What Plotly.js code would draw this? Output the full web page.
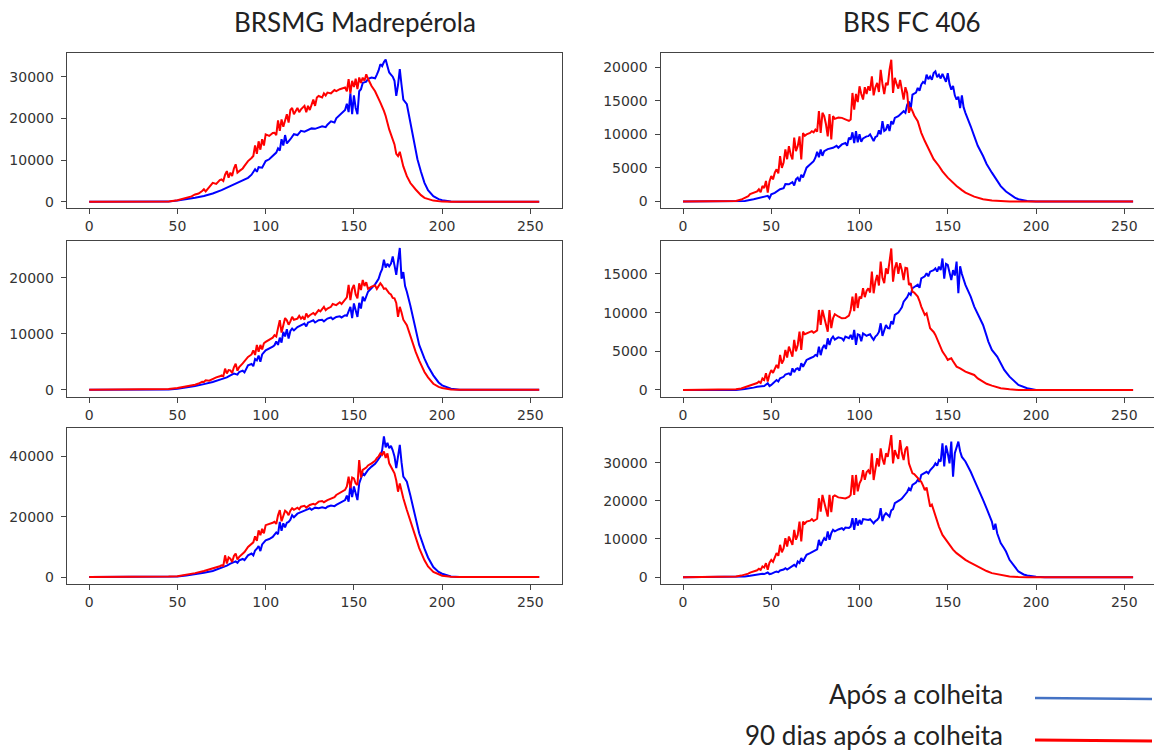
<!DOCTYPE html>
<html>
<head>
<meta charset="utf-8">
<script src="https://cdn.plot.ly/plotly-3.0.1.min.js"></script>
<style>html,body{margin:0;padding:0;background:#fff;}#chart{width:1154px;height:753px;}</style>
</head>
<body>
<div id="chart"></div>
<script>
// Column titles and legend labels
const columnTitles = ["BRSMG Madrepérola", "BRS FC 406"];
const seriesNames = ["Após a colheita", "90 dias após a colheita"];
const xTicks = [0, 50, 100, 150, 200, 250];

// [intensity bin, pixel count] pairs
// BRSMG Madrepérola, row 1
const madre1Apos = [[0,0],[40,0],[45,50],[50,300],[55,600],[60,960],[65,1400],[70,2000],[75,2800],[80,3760],[83,4500],[85,4800],[88,5300],[90,5760],[92,6500],[94,7800],[95,7200],[96,8300],[98,8200],[100,9760],[102,10200],[104,11000],[106,11800],[107,12800],[108,12300],[109,15000],[110,13500],[111,16000],[112,14000],[114,15000],[116,16200],[118,16000],[120,17000],[122,16800],[124,17300],[126,17600],[128,17500],[130,17800],[132,18100],[134,17900],[135,18500],[137,19300],[139,19000],[140,20000],[142,20800],[144,21600],[145,22000],[146,23500],[147,21500],[148,26000],[149,21000],[150,25500],[151,22500],[152,21000],[153,26500],[154,27000],[155,28500],[157,28800],[158,29500],[160,29800],[162,29600],[163,30500],[164,31500],[165,33000],[166,32500],[167,33500],[168,34100],[169,32500],[170,31000],[171,30500],[172,30000],[173,29000],[174,25400],[175,28000],[176,31800],[177,28000],[178,24500],[180,23400],[182,19000],[183,16500],[185,12500],[186,10200],[188,7200],[190,4560],[192,2800],[195,1360],[198,650],[200,400],[205,100],[210,0],[255,0]];
const madre1Dias90 = [[0,0],[40,0],[45,100],[50,400],[55,900],[58,1300],[60,1760],[62,2000],[64,2600],[65,3000],[66,2500],[68,3500],[70,4560],[72,4300],[74,5200],[75,5360],[76,5000],[77,6500],[78,7360],[79,5800],[80,7000],[81,6200],[82,8000],[83,9000],[84,7000],[85,7360],[87,8000],[88,8600],[90,9760],[92,10500],[93,11000],[94,13500],[95,11500],[96,14500],[97,12500],[98,15000],[99,13500],[100,16160],[102,15800],[104,16500],[105,16560],[106,16000],[107,19500],[108,17000],[109,19760],[110,18000],[111,19500],[112,21000],[113,19000],[114,22000],[115,22500],[116,21000],[118,22500],[119,21500],[120,22160],[122,23000],[123,21500],[124,23000],[125,22000],[126,23500],[127,24500],[128,23000],[129,25000],[130,25360],[132,25000],[133,26000],[134,25500],[135,26200],[137,26000],[139,26800],[140,26560],[142,27000],[144,27200],[145,27400],[146,26500],[147,29400],[148,26000],[149,29000],[150,27500],[151,29500],[152,27000],[153,29800],[154,28500],[155,29760],[156,29000],[157,30560],[158,29500],[160,27760],[162,26500],[163,25700],[165,23760],[167,21800],[168,20560],[170,17360],[172,14800],[173,13760],[174,11500],[175,10960],[176,12000],[177,10000],[178,8500],[180,6160],[182,4500],[185,2960],[188,1600],[190,960],[195,300],[200,50],[205,0],[255,0]];

// BRS FC 406, row 1
const fc1Apos = [[0,0],[30,0],[35,100],[40,350],[43,500],[45,600],[47,700],[48,850],[49,500],[50,1090],[52,1300],[54,1600],[55,1830],[57,2000],[58,2600],[60,2570],[62,2900],[63,2400],[64,3300],[65,3560],[66,3000],[67,4000],[68,3600],[70,5040],[72,5500],[74,6000],[75,6520],[76,7400],[77,6600],[78,7760],[79,6800],[80,7500],[82,7800],[84,7900],[85,8000],[87,8300],[88,8000],[90,8500],[92,8700],[93,8300],[94,9500],[95,9240],[96,10300],[97,8700],[98,10470],[99,8800],[100,10000],[101,8900],[102,9400],[104,9700],[105,9730],[106,10000],[107,9400],[108,9000],[109,9600],[110,9730],[111,10600],[112,10000],[113,11950],[114,10500],[115,10700],[116,11500],[117,10500],[118,11950],[119,11500],[120,12450],[122,12700],[124,13100],[125,13440],[126,13200],[127,14400],[128,14900],[129,13700],[130,15900],[132,16200],[133,16900],[134,16500],[135,17400],[136,17800],[137,17600],[138,18870],[139,18200],[140,18600],[141,18100],[142,19100],[143,19360],[144,18500],[145,18870],[146,18300],[147,19000],[148,18400],[149,17800],[150,19100],[151,17500],[152,16650],[153,17200],[154,15800],[155,15170],[156,15600],[157,13900],[158,15800],[159,14000],[160,13200],[162,12000],[163,11200],[165,9730],[167,8300],[170,6770],[172,5600],[175,4300],[178,3000],[180,2300],[183,1500],[185,1090],[188,600],[190,350],[195,100],[200,0],[255,0]];
const fc1Dias90 = [[0,0],[28,0],[30,100],[33,300],[35,600],[37,800],[38,1100],[40,1330],[42,1500],[43,1830],[44,1400],[45,2320],[46,2000],[47,3060],[48,1330],[49,3000],[50,3800],[51,3300],[52,4300],[53,4800],[54,4200],[55,6770],[56,5000],[57,5800],[58,7760],[59,6300],[60,8250],[61,7000],[62,6270],[63,9500],[64,7500],[65,8250],[66,9700],[67,6270],[68,10200],[69,9800],[70,10000],[72,10200],[73,10470],[74,10300],[75,10700],[76,10400],[77,13440],[78,10200],[79,13200],[80,12700],[81,11500],[82,9700],[83,13000],[84,9240],[85,12700],[86,12300],[88,12500],[90,12450],[92,12200],[94,12000],[95,12200],[96,16150],[97,13680],[98,16000],[99,14800],[100,17140],[101,16000],[102,15170],[103,17000],[104,16000],[105,17140],[106,16500],[107,18620],[108,15800],[109,17000],[110,17640],[111,16300],[112,19600],[113,17500],[114,16000],[115,17640],[116,17300],[117,19600],[118,21100],[119,16150],[120,18400],[121,17500],[122,16800],[123,18100],[124,16500],[125,15170],[126,17000],[127,16150],[128,13200],[129,14000],[130,13440],[131,12800],[133,11950],[135,10220],[137,9000],[140,7260],[142,6300],[145,5290],[147,4500],[150,3560],[152,3000],[155,2320],[158,1700],[160,1330],[165,740],[170,350],[175,150],[180,50],[185,0],[255,0]];

// BRSMG Madrepérola, row 2
const madre2Apos = [[0,0],[40,0],[45,60],[50,180],[55,400],[60,650],[65,1000],[70,1370],[75,1900],[78,2200],[80,2570],[82,2900],[84,2700],[85,3160],[87,3400],[88,3100],[90,4360],[92,4600],[93,4200],[94,5500],[95,5250],[96,6100],[97,5000],[98,6300],[100,7040],[102,7300],[104,7700],[105,7940],[106,8600],[107,8000],[108,9300],[109,8400],[110,10330],[111,9500],[112,10800],[113,9130],[114,10500],[115,10920],[116,10600],[118,11200],[120,11520],[122,11800],[123,11300],[124,12000],[125,12100],[127,12400],[128,12000],[130,12400],[132,12500],[133,12200],[135,12700],[137,12900],[138,12600],[140,13000],[142,13100],[143,12900],[145,13300],[146,13200],[147,14000],[148,14800],[149,12800],[150,15400],[151,14200],[152,13000],[153,15500],[154,14500],[155,16600],[156,15800],[158,17500],[160,18100],[162,18800],[163,19300],[164,19800],[165,20800],[166,21500],[167,23200],[168,21800],[169,22500],[170,22000],[171,22500],[172,23800],[173,22200],[174,20500],[175,23000],[176,25300],[177,19800],[178,21000],[179,18500],[180,17500],[182,15000],[183,13600],[185,10300],[187,8000],[190,5550],[192,4200],[195,2570],[198,1300],[200,780],[205,180],[210,0],[255,0]];
const madre2Dias90 = [[0,0],[40,0],[45,120],[50,300],[55,550],[60,900],[62,1100],[64,1400],[65,1370],[66,1700],[68,1600],[70,1970],[72,2200],[74,2400],[75,2570],[76,2400],[77,3760],[78,2900],[79,3500],[80,3460],[81,3000],[82,4000],[83,4660],[84,3400],[85,4060],[87,4700],[88,5100],[90,5850],[92,6300],[93,7040],[94,6200],[95,8000],[96,6800],[97,8000],[98,7200],[99,8300],[100,8540],[102,9000],[104,9300],[105,9730],[106,9500],[107,11000],[108,12400],[109,10200],[110,11500],[111,12800],[112,12400],[113,11600],[114,12200],[115,13000],[116,12500],[118,12700],[119,13200],[120,12700],[121,13000],[122,12500],[123,13600],[124,13000],[125,13300],[127,13700],[128,13400],[130,14200],[131,14000],[132,14500],[133,14800],[134,14200],[135,14500],[137,14800],[138,15300],[140,15100],[142,15600],[143,15300],[145,16000],[146,16500],[147,18700],[148,16000],[149,18000],[150,18700],[151,17000],[152,16300],[153,19000],[154,17800],[155,19600],[156,18500],[157,19200],[158,18000],[160,18400],[162,18600],[163,18000],[165,19000],[166,18600],[167,18000],[168,18100],[170,17200],[171,17000],[172,16400],[173,16300],[174,15500],[175,13000],[176,14800],[177,13800],[178,12500],[180,11500],[182,9500],[183,8540],[185,6750],[187,5200],[190,3160],[192,2200],[195,1070],[198,500],[200,300],[205,60],[210,0],[255,0]];

// BRS FC 406, row 2
const fc2Apos = [[0,0],[30,0],[35,130],[38,200],[40,300],[42,400],[44,450],[45,560],[46,500],[48,860],[49,500],[50,650],[52,1000],[53,1290],[54,1100],[55,1500],[57,1700],[58,2000],[60,2150],[61,1900],[62,2800],[63,2300],[64,2700],[65,2800],[66,2500],[67,3450],[68,3000],[70,3880],[72,4100],[74,4300],[75,4530],[76,4400],[77,5600],[78,4500],[79,5400],[80,5820],[81,5300],[82,6680],[83,5800],[84,6600],[85,6900],[86,6500],[88,6800],[90,6680],[91,6400],[92,6900],[94,6700],[95,7110],[96,6500],[97,7760],[98,5820],[99,7200],[100,7110],[101,6300],[102,7300],[104,7000],[105,7110],[106,7200],[107,6800],[108,6470],[109,6900],[110,7110],[111,7500],[112,8620],[113,7000],[114,7800],[115,8400],[116,8000],[117,7970],[118,8900],[119,8500],[120,9700],[122,10000],[123,10340],[124,10700],[125,11420],[127,12000],[128,12500],[129,12300],[130,13150],[132,13400],[133,13600],[134,13200],[135,14440],[137,14700],[138,15100],[139,14700],[140,15300],[142,15500],[143,15730],[144,15300],[145,15950],[146,15500],[147,17000],[148,14400],[149,16300],[150,16160],[151,15000],[152,14220],[153,15500],[154,14800],[155,16600],[156,12500],[157,16000],[158,15000],[160,13580],[162,12600],[163,12070],[165,10780],[167,9800],[168,9270],[170,8400],[172,7000],[173,6250],[175,5170],[177,4600],[178,4310],[180,3450],[182,2600],[185,1720],[188,1000],[190,650],[195,215],[200,0],[255,0]];
const fc2Dias90 = [[0,0],[28,0],[30,80],[33,200],[35,340],[37,500],[38,600],[40,730],[42,900],[43,1080],[44,900],[45,1500],[46,1300],[47,2150],[48,1080],[49,2000],[50,2580],[51,2200],[52,2800],[53,3230],[54,2800],[55,4530],[56,3400],[57,3880],[58,5170],[59,4200],[60,5600],[61,4800],[62,4310],[63,6470],[64,5000],[65,5820],[66,7540],[67,5170],[68,7540],[69,7200],[70,7330],[72,7500],[73,7600],[74,7400],[75,7540],[76,7700],[77,10340],[78,8400],[79,10340],[80,9480],[81,8500],[82,7540],[83,10340],[84,8000],[85,9270],[86,9800],[88,9500],[90,9270],[92,9300],[94,9600],[95,10340],[96,12070],[97,10200],[98,12500],[99,10600],[100,12070],[101,11800],[102,13150],[103,12000],[104,12800],[105,13150],[106,12600],[107,15300],[108,12500],[109,14000],[110,14870],[111,13500],[112,16600],[113,14500],[114,13800],[115,15730],[116,15000],[117,16600],[118,18300],[119,14000],[120,15730],[121,16500],[122,15000],[123,16380],[124,15500],[125,14220],[126,15800],[127,15730],[128,13580],[129,13800],[130,12700],[131,12600],[133,12070],[134,11500],[135,10780],[137,9700],[138,9900],[140,7970],[142,7500],[143,7110],[145,6030],[147,4960],[149,4300],[150,3880],[151,4000],[152,4100],[153,3700],[155,3020],[157,2800],[160,2370],[162,2200],[165,1940],[167,1500],[170,1080],[172,800],[175,560],[180,215],[185,80],[190,0],[255,0]];

// BRSMG Madrepérola, row 3
const madre3Apos = [[0,0],[40,0],[45,100],[50,200],[55,500],[60,900],[65,1400],[70,2000],[75,3000],[78,3800],[80,4440],[82,4900],[83,5200],[84,4700],[85,5550],[87,6000],[88,5600],[90,7200],[92,7800],[93,7200],[94,8800],[95,9400],[96,10300],[97,8600],[98,10800],[100,12200],[102,12600],[104,13300],[105,13900],[106,14800],[107,14200],[108,18300],[109,15300],[110,17800],[111,16500],[112,18000],[113,18300],[114,19000],[115,20500],[116,19800],[118,21000],[120,21600],[122,22000],[124,22500],[125,22800],[126,22300],[128,23000],[130,22800],[132,23100],[134,22800],[135,23300],[137,23700],[139,23500],[140,23900],[142,24500],[144,25000],[145,25500],[146,27000],[147,25000],[148,30500],[149,26500],[150,30000],[151,28000],[152,25500],[153,31000],[154,32500],[155,34400],[156,33800],[158,35500],[160,36600],[162,37500],[163,38300],[164,39000],[165,40000],[166,42000],[167,46600],[168,43000],[169,44500],[170,42700],[171,43500],[172,42000],[173,40000],[174,36100],[175,40000],[176,43800],[177,38000],[178,33300],[179,32500],[180,31600],[182,27000],[183,24400],[185,18900],[187,14500],[190,9400],[192,6500],[195,3300],[198,1700],[200,1100],[205,200],[210,0],[255,0]];
const madre3Dias90 = [[0,0],[40,0],[45,150],[50,300],[55,700],[60,1300],[65,2000],[70,2800],[72,3200],[74,3600],[75,3900],[76,3700],[77,7200],[78,4500],[79,6500],[80,6100],[81,5000],[82,7000],[83,7800],[84,5800],[85,6700],[87,7600],[88,8300],[90,10000],[92,10800],[93,11500],[94,13500],[95,12000],[96,15500],[97,13900],[98,16000],[99,14500],[100,17200],[102,17500],[104,18000],[105,18300],[106,17600],[107,20500],[108,22200],[109,18500],[110,20000],[111,22000],[112,21500],[113,20500],[114,22000],[115,22800],[116,22300],[118,23000],[119,22500],[120,23300],[122,23600],[123,23000],[125,23900],[127,24300],[128,24000],[130,25000],[132,25200],[133,24800],[135,25500],[137,26000],[139,26500],[140,27200],[142,27800],[144,28400],[145,28900],[146,30000],[147,33300],[148,29500],[149,33000],[150,32700],[151,31000],[152,30500],[153,38800],[154,33000],[155,35500],[157,36300],[158,37000],[160,37700],[162,38500],[163,39400],[164,40000],[165,41000],[166,40500],[167,41600],[168,39500],[169,41000],[170,37700],[172,35500],[173,34400],[174,32000],[175,28300],[176,31000],[177,28000],[178,26100],[180,22200],[182,18500],[183,16600],[185,12800],[187,9600],[190,5550],[192,3500],[195,1700],[198,800],[200,450],[205,100],[210,0],[255,0]];

// BRS FC 406, row 3
const fc3Apos = [[0,0],[30,0],[35,170],[38,350],[40,520],[42,650],[44,700],[45,870],[46,800],[48,1220],[49,800],[50,870],[52,1300],[53,1480],[54,1300],[55,1740],[57,2000],[58,2350],[59,2000],[60,2350],[62,2900],[63,3230],[64,2800],[65,4100],[66,3700],[67,5000],[68,4100],[70,5840],[72,6300],[74,6800],[75,7150],[76,7300],[77,9770],[78,8200],[79,9300],[80,10200],[81,9600],[82,11950],[83,9770],[84,11500],[85,12380],[86,12000],[88,12500],[90,12820],[91,12400],[92,13000],[94,12900],[95,13250],[96,15430],[97,12380],[98,15430],[99,13500],[100,14990],[101,13800],[102,15200],[104,15000],[105,14990],[106,15200],[107,14600],[108,14100],[109,14700],[110,14990],[111,15600],[112,18050],[113,14700],[114,16200],[115,16740],[116,16300],[117,15870],[118,17500],[119,17800],[120,19360],[122,19800],[123,20230],[124,20600],[125,21100],[127,22300],[128,23300],[129,22800],[130,24160],[132,24800],[133,25500],[134,25000],[135,26800],[137,27200],[138,27600],[139,27200],[140,28000],[142,29000],[143,29800],[144,29200],[145,30700],[146,30300],[147,35050],[148,29000],[149,34500],[150,32450],[151,29800],[152,35500],[153,26300],[154,32450],[155,34200],[156,35500],[157,33000],[158,31500],[160,30300],[162,28600],[163,27600],[165,25500],[167,23500],[168,22400],[170,20230],[172,18000],[173,16740],[175,14560],[176,12400],[177,14000],[178,11500],[180,8900],[182,7500],[183,6700],[185,4530],[188,2800],[190,1480],[193,700],[195,430],[200,90],[205,0],[255,0]];
const fc3Dias90 = [[0,0],[28,0],[30,170],[33,400],[35,610],[37,900],[38,1200],[40,1480],[42,1800],[43,2180],[44,1900],[45,2800],[46,2500],[47,3660],[48,1920],[49,3800],[50,4530],[51,4000],[52,5400],[53,6280],[54,5600],[55,8460],[56,6500],[57,7590],[58,10200],[59,8000],[60,10640],[61,9500],[62,8460],[63,12380],[64,9800],[65,11070],[66,14560],[67,9330],[68,14560],[69,14000],[70,14560],[72,14800],[73,15200],[74,14700],[75,15000],[76,15300],[77,20670],[78,17180],[79,21540],[80,19360],[81,17500],[82,15870],[83,21540],[84,17000],[85,21100],[86,21400],[88,20900],[90,20670],[92,20600],[94,21000],[95,21540],[96,26770],[97,21540],[98,26770],[99,22500],[100,24600],[101,25500],[102,28000],[103,25500],[104,27500],[105,28000],[106,27000],[107,32450],[108,25460],[109,29000],[110,31150],[111,29000],[112,33750],[113,31000],[114,29500],[115,32450],[116,31500],[117,34200],[118,37200],[119,29800],[120,33300],[121,32000],[122,31000],[123,35900],[124,32500],[125,30700],[126,33500],[127,34200],[128,29800],[129,28500],[130,27200],[131,27000],[133,25900],[134,25500],[135,25000],[136,24000],[137,22800],[138,23500],[140,18500],[141,19000],[143,15870],[145,13250],[147,11070],[149,9800],[150,8900],[152,7590],[153,7200],[155,6280],[157,5500],[160,4530],[162,4000],[165,3230],[167,2700],[170,2090],[172,1600],[175,1050],[180,520],[185,170],[190,50],[195,0],[255,0]];

// y tick values per panel
const yTicks1L = [0, 10000, 20000, 30000];
const yTicks1R = [0, 5000, 10000, 15000, 20000];
const yTicks2L = [0, 10000, 20000];
const yTicks2R = [0, 5000, 10000, 15000];
const yTicks3L = [0, 20000, 40000];
const yTicks3R = [0, 10000, 20000, 30000];

const BLUE = '#0000ff', RED = '#ff0000';
const panels = [
  {a: madre1Apos, d: madre1Dias90, yt: yTicks1L, yr: [-1550, 35600]},
  {a: fc1Apos,    d: fc1Dias90,    yt: yTicks1R, yr: [-1000, 22050]},
  {a: madre2Apos, d: madre2Dias90, yt: yTicks2L, yr: [-1350, 26600]},
  {a: fc2Apos,    d: fc2Dias90,    yt: yTicks2R, yr: [-950, 19300]},
  {a: madre3Apos, d: madre3Dias90, yt: yTicks3L, yr: [-2300, 49300]},
  {a: fc3Apos,    d: fc3Dias90,    yt: yTicks3R, yr: [-1800, 39000]}
];

const W = 1154, H = 753;
const colX = [[66.7 / W, 561.7 / W], [660.5 / W, 1]];
const xRanges = [[-12.75, 267.75], [-12.75, 266.85]];
const rowY = [[1 - 208.3 / H, 1 - 53.3 / H], [1 - 397.3 / H, 1 - 240.7 / H], [1 - 584 / H, 1 - 428.3 / H]];

const traces = [];
const layout = {
  width: W, height: H,
  margin: {l: 0, r: 0, t: 0, b: 0},
  paper_bgcolor: '#fff', plot_bgcolor: '#fff',
  showlegend: false,
  font: {family: 'DejaVu Sans', size: 14, color: '#333'},
  annotations: [], shapes: []
};

panels.forEach((p, i) => {
  const n = i + 1;
  const col = i % 2, row = Math.floor(i / 2);
  const xa = n === 1 ? 'x' : 'x' + n, ya = n === 1 ? 'y' : 'y' + n;
  traces.push({x: p.a.map(v => v[0]), y: p.a.map(v => v[1]), xaxis: xa, yaxis: ya, type: 'scatter', mode: 'lines', name: seriesNames[0], line: {color: BLUE, width: 2}});
  traces.push({x: p.d.map(v => v[0]), y: p.d.map(v => v[1]), xaxis: xa, yaxis: ya, type: 'scatter', mode: 'lines', name: seriesNames[1], line: {color: RED, width: 2}});
  const common = {showline: true, mirror: true, linecolor: '#444', linewidth: 1, ticks: 'outside', ticklen: 5, tickwidth: 1, tickcolor: '#444', showgrid: false, zeroline: false, fixedrange: true, tickfont: {family: 'DejaVu Sans', size: 14, color: '#333'}};
  layout['xaxis' + (n === 1 ? '' : n)] = Object.assign({}, common, {domain: colX[col], range: xRanges[col], anchor: ya, tickmode: 'array', tickvals: xTicks, ticktext: xTicks.map(String)});
  layout['yaxis' + (n === 1 ? '' : n)] = Object.assign({}, common, {domain: rowY[row], range: p.yr, anchor: xa, tickmode: 'array', tickvals: p.yt, ticktext: p.yt.map(String), ticklabelstandoff: 4});
});

// column titles
layout.annotations.push({text: columnTitles[0], xref: 'paper', yref: 'paper', x: 355 / W, y: 1 - 22 / H, xanchor: 'center', yanchor: 'middle', showarrow: false, font: {family: 'Lato', size: 26, color: '#222'}});
layout.annotations.push({text: columnTitles[1], xref: 'paper', yref: 'paper', x: 912 / W, y: 1 - 22 / H, xanchor: 'center', yanchor: 'middle', showarrow: false, font: {family: 'Lato', size: 26, color: '#222'}});

// legend (text + line samples)
layout.annotations.push({text: seriesNames[0], xref: 'paper', yref: 'paper', x: 1005 / W, y: 1 - 694 / H, xanchor: 'right', yanchor: 'middle', showarrow: false, font: {family: 'Lato', size: 26, color: '#222'}});
layout.annotations.push({text: seriesNames[1], xref: 'paper', yref: 'paper', x: 1005 / W, y: 1 - 735 / H, xanchor: 'right', yanchor: 'middle', showarrow: false, font: {family: 'Lato', size: 26, color: '#222'}});
layout.shapes.push({type: 'line', xref: 'paper', yref: 'paper', x0: 1035 / W, x1: 1152 / W, y0: 1 - 698 / H, y1: 1 - 699 / H, line: {color: '#4472c4', width: 2.5}});
layout.shapes.push({type: 'line', xref: 'paper', yref: 'paper', x0: 1035 / W, x1: 1152 / W, y0: 1 - 740 / H, y1: 1 - 741 / H, line: {color: '#ff0000', width: 3}});

Plotly.newPlot('chart', traces, layout, {staticPlot: true, displayModeBar: false});
</script>
</body>
</html>
